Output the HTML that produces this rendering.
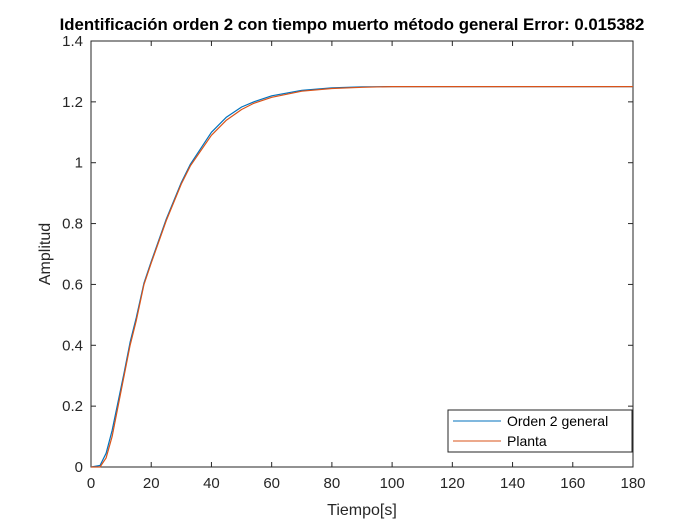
<!DOCTYPE html>
<html><head><meta charset="utf-8"><style>
body{margin:0;background:#fff;}
svg{display:block;font-family:"Liberation Sans",Arial,sans-serif;}
</style></head><body>
<svg id="chart" width="700" height="525" viewBox="0 0 700 525">
<rect x="0" y="0" width="700" height="525" fill="#fff"/>
<text x="352" y="30" text-anchor="middle" font-size="16.8" font-weight="bold" fill="#000">Identificación orden 2 con tiempo muerto método general Error: 0.015382</text>
<rect x="91" y="41" width="542" height="426" fill="#fff" stroke="#262626" stroke-width="1"/>
<g id="xticks"></g><g id="yticks"></g>
<g id="series"></g>
<text x="362" y="515" text-anchor="middle" font-size="16" fill="#262626">Tiempo[s]</text>
<text transform="translate(50,254) rotate(-90)" text-anchor="middle" font-size="16" fill="#262626">Amplitud</text>
<g>
<rect x="448" y="410" width="184" height="42" fill="#fff" stroke="#262626" stroke-width="1"/>
<line x1="453" y1="421" x2="501" y2="421" stroke="#0072bd" stroke-width="1"/>
<text x="507" y="426" font-size="14" fill="#000">Orden 2 general</text>
<line x1="453" y1="441" x2="501" y2="441" stroke="#d95319" stroke-width="1"/>
<text x="507" y="446" font-size="14" fill="#000">Planta</text>
</g>
</svg>
<script>
const times=[0,3,5,7,9,11,13,15,17.6,20,25,30,33,40,45,50,54,60,70,80,90,100,120,140,180];
const planta=[0,0,0.03,0.1,0.2,0.3,0.4,0.48,0.6,0.67,0.81,0.93,0.99,1.09,1.14,1.175,1.195,1.215,1.235,1.244,1.248,1.25,1.25,1.25,1.25];
const orden2=[0,0.005,0.045,0.12,0.215,0.31,0.41,0.49,0.605,0.675,0.815,0.935,0.995,1.1,1.15,1.183,1.2,1.22,1.238,1.246,1.249,1.25,1.25,1.25,1.25];
const xTicks=[0,20,40,60,80,100,120,140,160,180];
const yTicks=[0,0.2,0.4,0.6,0.8,1,1.2,1.4];
const X0=91,X1=633,Y0=467,Y1=41;
function xs(v){return X0+(v-0)/(180-0)*(X1-X0);}
function ys(v){return Y0-(v-0)/(1.4-0)*(Y0-Y1);}
const NS="http://www.w3.org/2000/svg";
const gx=document.getElementById('xticks'),gy=document.getElementById('yticks'),gs=document.getElementById('series');
xTicks.forEach(t=>{
 const l=document.createElementNS(NS,'line');
 l.setAttribute('x1',xs(t));l.setAttribute('x2',xs(t));l.setAttribute('y1',Y0);l.setAttribute('y2',Y0-5);
 l.setAttribute('stroke','#262626');
 
 
 gx.appendChild(l);
 const l2=l.cloneNode();l2.setAttribute('y1',Y1);l2.setAttribute('y2',Y1+5);gx.appendChild(l2);
 const tx=document.createElementNS(NS,'text');
 tx.setAttribute('x',xs(t));tx.setAttribute('y',Y0+21);tx.setAttribute('text-anchor','middle');
 tx.setAttribute('font-size','15');tx.setAttribute('fill','#262626');tx.textContent=t;
 
 
 gx.appendChild(tx);
});
yTicks.forEach(t=>{
 const l=document.createElementNS(NS,'line');
 l.setAttribute('x1',X0);l.setAttribute('x2',X0+5);l.setAttribute('y1',ys(t));l.setAttribute('y2',ys(t));
 l.setAttribute('stroke','#262626');
 
 
 gy.appendChild(l);
 const l2=l.cloneNode();l2.setAttribute('x1',X1);l2.setAttribute('x2',X1-5);gy.appendChild(l2);
 const tx=document.createElementNS(NS,'text');
 tx.setAttribute('x',X0-8);tx.setAttribute('y',ys(t)+5);tx.setAttribute('text-anchor','end');
 tx.setAttribute('font-size','15');tx.setAttribute('fill','#262626');tx.textContent=t;
 
 
 gy.appendChild(tx);
});
function path(vals,color,name){
 const p=document.createElementNS(NS,'path');
 p.setAttribute('d',vals.map((v,i)=>(i?'L':'M')+xs(times[i]).toFixed(1)+' '+ys(v).toFixed(1)).join(' '));
 p.setAttribute('fill','none');p.setAttribute('stroke',color);p.setAttribute('stroke-width','1.2');
 p.setAttribute('stroke-linejoin','round');
 
 
 gs.appendChild(p);
}
path(orden2,'#0072bd','orden2-line');
path(planta,'#d95319','planta-line');
</script>
</body></html>
